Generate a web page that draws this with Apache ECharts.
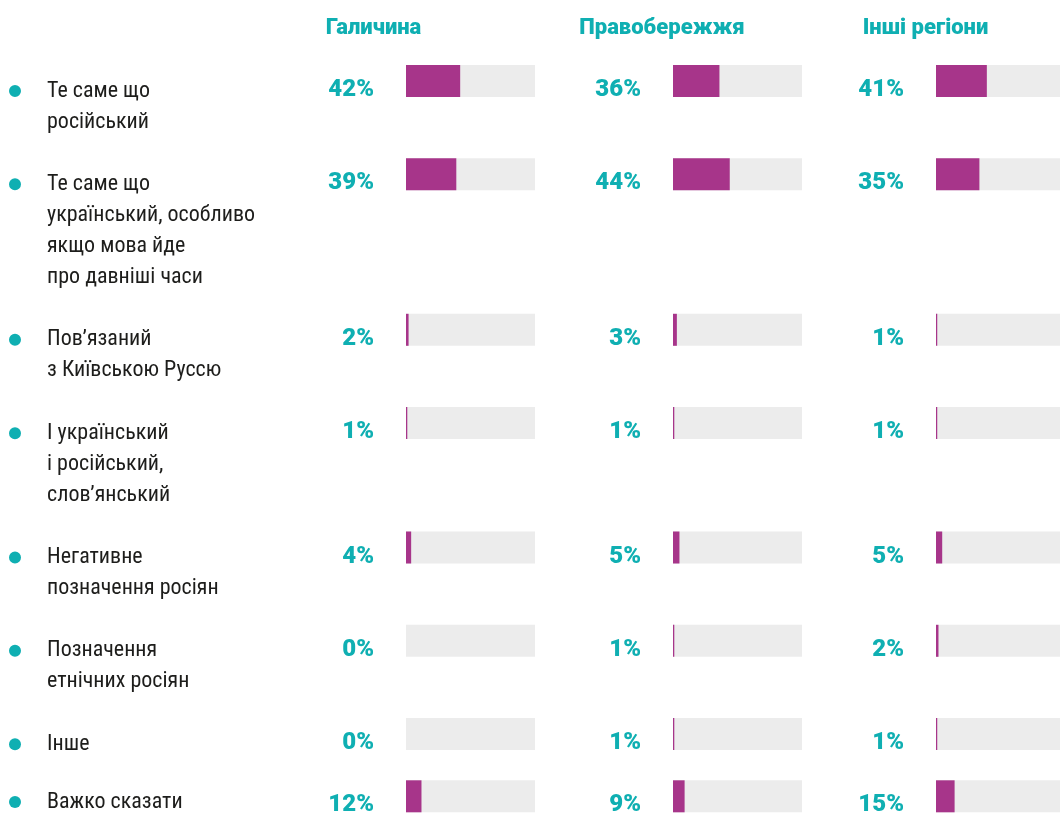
<!DOCTYPE html>
<html>
<head>
<meta charset="utf-8">
<style>
  html, body { margin: 0; padding: 0; background: #ffffff; }
  #chart { width: 1060px; height: 813px; }
</style>
<script src="https://cdn.jsdelivr.net/npm/echarts@6/dist/echarts.min.js"></script>
</head>
<body>
<div id="chart"></div>
<script>
// Answer options (line breaks as set in the layout)
const categories = [
  'Те саме що\nросійський',
  'Те саме що\nукраїнський, особливо\nякщо мова йде\nпро давніші часи',
  'Пов’язаний\nз Київською Руссю',
  'І український\nі російський,\nслов’янський',
  'Негативне\nпозначення росіян',
  'Позначення\nетнічних росіян',
  'Інше',
  'Важко сказати'
];

// Region headers
const regions = ['Галичина', 'Правобережжя', 'Інші регіони'];

// Shares of respondents, %
const galychyna = [42, 39, 2, 1, 4, 0, 0, 12];
const pravoberezhzhia = [36, 44, 3, 1, 5, 1, 1, 9];
const inshiRegiony = [41, 35, 1, 1, 5, 2, 1, 15];

const regionValues = [galychyna, pravoberezhzhia, inshiRegiony];

// Layout
const TEAL = '#0fafb2';
const MAGENTA = '#a7358a';
const TRACK = '#ececec';
const TEXT = '#1d1d1b';
const LINE = 31.1;          // height of one text line
const FIRST_TOP = 65;       // top of the first bar row
const BAR_H = 32;
const PANEL_W = 129;
const panelLeft = [406, 673, 936];
const headerCenter = [373.5, 662, 925.5];
const HEADER_Y = 28;

const lineCounts = categories.map(c => c.split('\n').length);
const rowTop = [];
let acc = 0;
lineCounts.forEach((n, i) => {
  rowTop.push(FIRST_TOP + acc * LINE);
  acc += n + 1;
});

const grid = [], xAxis = [], yAxis = [], series = [];

// Bar panels: one small grid per region and answer
regionValues.forEach((vals, c) => {
  vals.forEach((v, r) => {
    const gi = grid.length;
    grid.push({ left: panelLeft[c], top: rowTop[r], width: PANEL_W, height: BAR_H, containLabel: false });
    xAxis.push({ gridIndex: gi, type: 'value', min: 0, max: 100, show: false });
    yAxis.push({ gridIndex: gi, type: 'category', data: [categories[r]], show: false });
    series.push({
      type: 'bar',
      xAxisIndex: gi,
      yAxisIndex: gi,
      data: [v],
      barWidth: BAR_H,
      showBackground: true,
      backgroundStyle: { color: TRACK },
      itemStyle: { color: MAGENTA },
      silent: true,
      label: {
        show: true,
        position: 'left',
        distance: 32,
        offset: [0, 9],
        formatter: p => p.value + '%',
        color: TEAL,
        fontFamily: 'Roboto',
        fontWeight: 900,
        fontSize: 24
      }
    });
  });
});

// Answer labels with bullets: a label axis per row
const BULLET_LEFT = 9;
categories.forEach((cat, r) => {
  const gi = grid.length;
  grid.push({ left: panelLeft[0], top: rowTop[r], width: PANEL_W, height: 21, containLabel: false });
  xAxis.push({ gridIndex: gi, type: 'value', min: 0, max: 100, show: false });
  yAxis.push({
    gridIndex: gi,
    type: 'category',
    data: [cat],
    axisLine: { show: false },
    axisTick: { show: false },
    splitLine: { show: false },
    axisLabel: {
      show: true,
      align: 'left',
      verticalAlign: 'top',
      margin: panelLeft[0] - BULLET_LEFT,
      formatter: value => value.split('\n').map((line, i) =>
        i === 0 ? '{dot|}{gap|}{t|' + line + '}' : '{ind|}{t|' + line + '}'
      ).join('\n'),
      rich: {
        dot: { width: 12, height: 12, borderRadius: 6, backgroundColor: TEAL, lineHeight: LINE },
        gap: { width: 26, lineHeight: LINE },
        ind: { width: 38, lineHeight: LINE },
        t: {
          fontFamily: '"Liberation Sans Narrow", "Roboto Condensed", "DejaVu Sans Condensed", Roboto, sans-serif',
          fontSize: 22,
          fontWeight: 'normal',
          color: TEXT,
          lineHeight: LINE
        }
      }
    }
  });
});

// Region headers
const graphic = regions.map((name, c) => ({
  type: 'text',
  x: headerCenter[c],
  y: HEADER_Y,
  silent: true,
  style: {
    text: name,
    fill: TEAL,
    font: '900 22px Roboto, sans-serif',
    textAlign: 'center',
    textVerticalAlign: 'middle'
  }
}));

const chart = echarts.init(document.getElementById('chart'), null, { renderer: 'canvas' });
chart.setOption({
  backgroundColor: '#ffffff',
  animation: false,
  grid, xAxis, yAxis, series, graphic
});
</script>
</body>
</html>
